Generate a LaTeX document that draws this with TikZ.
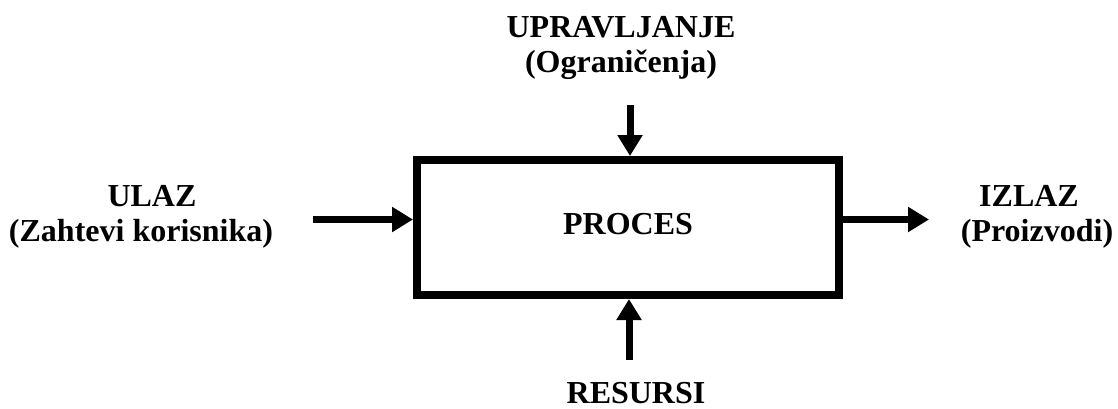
\documentclass[tikz,border=0pt]{standalone}
\usepackage{fontspec}
\setmainfont{Liberation Serif}
\usetikzlibrary{arrows.meta}
\begin{document}
\begin{tikzpicture}[x=1pt,y=-1pt,
  lbl/.style={anchor=base,inner sep=0pt,font=\fontsize{32pt}{36pt}\selectfont\bfseries},
  flow/.style={line width=7pt,-{Triangle[length=21pt,width=24pt]}},
  procbox/.style={draw,line width=8pt,minimum width=422pt,minimum height=135pt,inner sep=0pt}]
  \useasboundingbox (0,0) rectangle (1118,408);
  % central process box
  \node[procbox] (proc) at (628,227.5) {};
  \node[lbl] (proclbl) at (628,234) {PROCES};
  % labels
  \node[lbl] (ctrl1) at (621,37) {UPRAVLJANJE};
  \node[lbl] (ctrl2) at (621,72) {(Ograničenja)};
  \node[lbl] (in1) at (152,206) {ULAZ};
  \node[lbl] (in2) at (141,241) {(Zahtevi korisnika)};
  \node[lbl] (out1) at (1029,206) {IZLAZ};
  \node[lbl] (out2) at (1037,241) {(Proizvodi)};
  \node[lbl] (res) at (636,403) {RESURSI};
  % free ends of the connectors
  \coordinate (inStart) at (313,219.5);
  \coordinate (outEnd) at (929,219.5);
  \coordinate (ctrlStart) at (630,105);
  \coordinate (resStart) at (629,360);
  % connectors
  \draw[flow] (inStart) -- (inStart -| proc.west);
  \draw[flow] (outEnd -| proc.east) -- (outEnd);
  \draw[flow] (ctrlStart) -- (ctrlStart |- proc.north);
  \draw[flow] (resStart) -- (resStart |- proc.south);
\end{tikzpicture}
\end{document}
